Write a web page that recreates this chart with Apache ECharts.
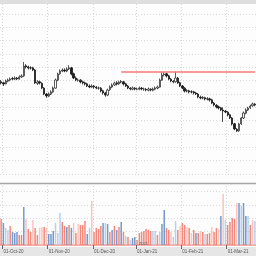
<!DOCTYPE html>
<html><head><meta charset="utf-8">
<script src="https://cdn.jsdelivr.net/npm/echarts@6/dist/echarts.min.js"></script>
<style>html,body{margin:0;padding:0;background:#fcfdfc}#c{width:256px;height:256px}</style>
</head><body><div id="c"></div>
<script>
const openP = [47.3,47.1,46.9,47.4,47.6,47.9,47.8,48.0,47.8,48.2,
48.4,50.3,50.1,49.9,49.9,49.5,47.0,47.3,47.0,46.1,
45.0,44.6,45.0,45.4,46.1,47.6,48.8,49.3,49.5,49.3,
49.7,49.9,48.8,48.0,47.6,47.6,47.3,47.1,46.9,46.5,
46.3,46.5,46.3,46.1,46.1,45.6,45.2,44.8,45.8,46.3,
46.7,47.1,46.9,47.3,47.3,46.9,46.5,46.1,45.9,46.1,
45.9,45.9,46.1,45.9,45.9,45.7,45.9,45.7,45.9,46.1,
46.3,47.6,48.6,48.8,48.4,47.8,47.4,47.3,48.0,47.1,
46.5,46.1,45.6,45.6,45.4,45.4,45.2,45.0,44.4,44.3,
44.3,44.1,44.1,43.9,43.3,42.9,42.6,42.4,42.0,41.8,
41.6,41.1,40.5,39.4,38.4,38.1,39.4,40.5,41.4,42.0,
42.4,42.8,43.1];
const closeP = [47.06,46.88,47.44,47.63,47.81,47.81,48.00,47.81,48.19,48.38,
50.25,50.06,49.88,49.88,49.50,47.06,47.25,47.06,46.13,45.00,
44.63,45.00,45.38,46.13,47.63,48.75,49.31,49.50,49.31,49.69,
49.88,48.75,48.00,47.63,47.63,47.25,47.06,46.88,46.50,46.31,
46.50,46.31,46.13,46.13,45.56,45.19,44.81,45.75,46.31,46.69,
47.06,46.88,47.25,47.25,46.88,46.50,46.13,45.94,46.13,45.94,
45.94,46.13,45.94,45.94,45.75,45.94,45.75,45.94,46.13,46.31,
47.63,48.56,48.75,48.38,47.81,47.44,47.25,48.00,47.06,46.50,
46.13,45.56,45.56,45.38,45.38,45.19,45.00,44.44,44.25,44.25,
44.06,44.06,43.88,43.31,42.94,42.56,42.38,42.00,41.81,41.63,
41.06,40.50,39.38,38.44,38.06,39.38,40.50,41.44,42.00,42.38,
42.75,43.13,42.94];
const highP = [47.6,47.3,47.7,47.9,48.1,48.2,48.3,48.2,48.5,48.7,
51.0,50.6,50.3,50.2,50.1,49.7,47.6,47.5,47.2,46.3,
45.2,45.3,45.7,46.4,47.9,49.0,49.6,49.8,49.8,50.0,
50.4,50.1,49.0,48.3,47.9,47.8,47.5,47.3,47.1,46.8,
46.8,46.7,46.5,46.4,46.3,45.8,45.4,46.0,46.6,47.0,
47.3,47.4,47.5,47.6,47.4,47.1,46.7,46.3,46.4,46.3,
46.2,46.4,46.3,46.2,46.1,46.2,46.1,46.2,46.4,46.6,
47.9,49.1,49.1,49.0,48.6,48.0,47.6,49.2,48.2,47.3,
46.7,46.3,45.9,45.8,45.7,45.6,45.4,45.2,44.7,44.6,
44.5,44.4,44.3,44.1,43.5,43.1,42.8,42.6,42.5,42.0,
41.8,41.3,40.7,39.6,38.6,39.6,40.7,41.7,42.3,42.6,
43.0,43.4,43.3];
const lowP = [46.8,46.5,46.8,47.2,47.4,47.6,47.6,47.6,47.7,48.0,
48.2,49.8,49.6,49.6,49.3,46.9,46.7,46.8,45.9,44.8,
44.3,44.4,44.8,45.2,46.0,47.4,48.6,49.1,49.1,49.1,
49.5,48.5,47.8,47.4,47.3,47.0,46.8,46.6,46.3,46.1,
46.1,46.0,45.9,45.8,45.3,44.9,44.5,44.6,45.6,46.1,
46.5,46.6,46.7,47.0,46.6,46.3,45.9,45.7,45.7,45.7,
45.7,45.7,45.7,45.6,45.5,45.5,45.5,45.5,45.7,45.9,
46.2,47.5,48.3,48.1,47.6,47.2,47.0,47.1,46.9,46.3,
45.9,45.3,45.3,45.1,45.1,44.9,44.8,44.2,44.0,44.0,
43.8,43.8,43.6,43.1,42.7,42.3,42.1,41.8,39.75,41.4,
40.8,40.3,39.1,38.2,37.88,37.9,39.2,40.3,41.2,41.8,
42.2,42.6,42.7];
const volume = [19.5,16.5,12.8,11.3,14.3,9.8,9.0,9.8,7.5,7.5,
28.5,19.5,12.0,9.8,18.8,12.8,7.5,12.8,13.5,13.5,
12.8,8.3,8.3,10.5,16.5,9.0,24.0,17.3,14.3,13.5,
15.0,12.8,16.5,9.0,15.8,15.0,15.0,18.0,8.3,12.8,
33.0,9.8,12.8,12.0,14.3,16.5,16.5,15.8,9.8,11.3,
14.3,11.3,13.5,17.3,9.8,6.8,6.0,
3.8,5.3,6.0,3.8,9.0,9.8,10.5,12.0,11.3,10.5,
10.5,10.5,7.5,9.8,15.8,26.3,12.8,11.3,9.8,6.0,
18.0,11.3,14.3,16.5,15.0,13.5,12.8,9.0,11.3,9.0,
9.0,10.5,9.8,8.3,8.3,9.0,13.5,9.8,12.8,12.0,
21.8,38.3,18.8,15.0,17.3,20.3,19.5,31.5,31.5,29.3,
31.5,21.8,21.8,15.0,18.8,18.0];
const volumeKind = ("RBLLRBBBRR" + "BPRRPRRPPR" + "PBBBLLLRRB" + "RBPRPRRRBL" + "PRRRRBLBRB" + "RBRBRLR" +
  "LBBRRRRRRR" + "LLRLBBRRPL" + "LRPRRPRPRB" + "RPRLRRPRRP" + "BPLRRRRPBL" + "BBLRPL").split('');
const tickIndex = [1, 21, 41, 60, 80, 100];
const tickLabels = ['01-Oct-20', '01-Nov-20', '01-Dec-20', '01-Jan-21', '01-Feb-21', '01-Mar-21'];
const yearLabel = '2021';
const resistance = 49.13;
const resistanceFrom = 53;

const categories = closeP.map((_, i) => String(i));
const kindColor = {R: '#f2887b', P: '#f8c6bf', B: '#7599cc', L: '#bccfe8'};
const isTick = (i) => tickIndex.indexOf(i) >= 0;
const dotted = {color: '#d9d9d9', width: 1, type: [1, 2]};

const chart = echarts.init(document.getElementById('c'), null, {renderer: 'canvas', width: 256, height: 256});
chart.setOption({
  animation: false,
  backgroundColor: '#fcfdfc',
  grid: [
    {left: 0, right: 0, top: 1, height: 173},
    {left: 0, right: 0, top: 183, height: 62}
  ],
  xAxis: [
    {type: 'category', gridIndex: 0, data: categories, boundaryGap: true,
     axisLine: {show: false}, axisTick: {show: false}, axisLabel: {show: false},
     splitLine: {show: true, interval: (i) => isTick(i), lineStyle: dotted}},
    {type: 'category', gridIndex: 1, data: categories, boundaryGap: true,
     axisLine: {show: true, lineStyle: {color: '#f4aca4', width: 2}},
     axisTick: {show: true, interval: (i) => isTick(i), length: 4, lineStyle: {color: '#666', width: 1}},
     axisLabel: {show: true, interval: (i) => isTick(i), align: 'left', margin: 4,
       formatter: (v, i) => { const k = tickIndex.indexOf(Number(v)); return k >= 0 ? tickLabels[k] : ''; },
       fontSize: 4.5, color: '#555', fontFamily: 'Liberation Sans'},
     splitLine: {show: true, interval: (i) => isTick(i), lineStyle: dotted}}
  ],
  yAxis: [
    {type: 'value', gridIndex: 0, min: 30, max: 62.44, interval: 2.5, scale: true,
     axisLine: {show: false}, axisTick: {show: false}, axisLabel: {show: false},
     splitLine: {show: true, lineStyle: dotted}},
    {type: 'value', gridIndex: 1, min: 0, max: 46.5, interval: 10,
     axisLine: {show: false}, axisTick: {show: false}, axisLabel: {show: false},
     splitLine: {show: true, lineStyle: dotted}}
  ],
  series: [
    {type: 'candlestick', xAxisIndex: 0, yAxisIndex: 0, barWidth: 1.8,
     data: closeP.map((c, i) => [openP[i], c, lowP[i], highP[i]]),
     itemStyle: {color: '#ffffff', color0: '#1a1a1a', borderColor: '#333333', borderColor0: '#1a1a1a', borderWidth: 0.8},
     markLine: {silent: true, symbol: 'none', label: {show: false},
       lineStyle: {color: '#f47a7a', width: 1.5, type: 'solid'},
       data: [[{coord: [String(resistanceFrom), resistance]}, {coord: [String(closeP.length - 1), resistance]}]]}},
    {type: 'bar', xAxisIndex: 1, yAxisIndex: 1, barWidth: 1.5,
     data: volume.map((v, i) => ({value: v, itemStyle: {color: kindColor[volumeKind[i]]}}))}
  ],
  graphic: [
    {type: 'rect', shape: {x: 0, y: 0, width: 256, height: 4}, style: {fill: '#dedede'}, z: 100},
    {type: 'rect', shape: {x: 0, y: 247, width: 256, height: 9}, style: {fill: '#e6e6e6'}, z: -1},
    {type: 'line', shape: {x1: 0, y1: 183.5, x2: 256, y2: 183.5}, style: {stroke: '#a5a5a5', lineWidth: 1.5}, z: 50},
    {type: 'text', x: 139, y: 242, style: {text: yearLabel, fontSize: 4, fill: '#555', fontFamily: 'Liberation Sans'}, z: 50}
  ]
});
</script></body></html>
